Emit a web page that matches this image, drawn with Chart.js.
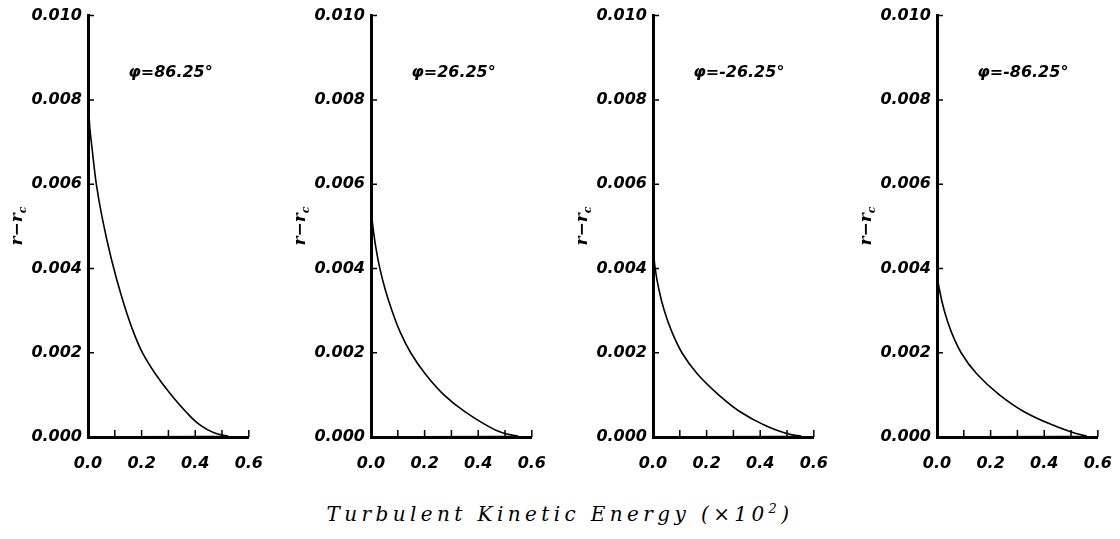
<!DOCTYPE html>
<html>
<head>
<meta charset="utf-8">
<script src="https://cdn.jsdelivr.net/npm/chart.js@4.4.1/dist/chart.umd.min.js"></script>
<style>
  body { margin: 0; background: #fff; }
  #wrap { position: relative; width: 1120px; height: 539px; overflow: hidden; }
  canvas { position: absolute; top: 0; }
  .ytitle {
    position: absolute; width: 60px; height: 20px; line-height: 20px; text-align: center;
    font: italic bold 17px "DejaVu Serif", serif; color: #000;
    transform: rotate(-90deg);
  }
  .ytitle sub { font-size: 11px; }
  #xtitle {
    position: absolute; left: 0; width: 1120px; top: 501px; text-align: center;
    font: italic 20px "DejaVu Serif", serif; letter-spacing: 4.4px; color: #000;
  }
  #xtitle sup { font-size: 13px; }
</style>
</head>
<body>
<div id="wrap">
  <canvas id="c0" width="280" height="480" style="left:0px"></canvas>
  <canvas id="c1" width="280" height="480" style="left:283px"></canvas>
  <canvas id="c2" width="280" height="480" style="left:565px"></canvas>
  <canvas id="c3" width="280" height="480" style="left:849px"></canvas>
  <div class="ytitle" style="left:-14px;top:216px">r−r<sub>c</sub></div>
  <div class="ytitle" style="left:269px;top:216px">r−r<sub>c</sub></div>
  <div class="ytitle" style="left:551px;top:216px">r−r<sub>c</sub></div>
  <div class="ytitle" style="left:835px;top:216px">r−r<sub>c</sub></div>
  <div id="xtitle">Turbulent Kinetic Energy (×10<sup>2</sup>)</div>
</div>
<script>
// angle of each station
const angles = ["φ=86.25°", "φ=26.25°", "φ=-26.25°", "φ=-86.25°"];

// turbulent kinetic energy (x100) and distance from wall r - rc
const tke1 = [0, 0.001, 0.003, 0.006, 0.016, 0.031, 0.053, 0.088, 0.127, 0.169, 0.203, 0.251, 0.310, 0.365, 0.415, 0.47, 0.505, 0.522, 0.45, 0];
const r1   = [0.0100, 0.0090, 0.0080, 0.0074, 0.0068, 0.0060, 0.0052, 0.0042, 0.0033, 0.0025, 0.0020, 0.0015, 0.0010, 0.0006, 0.0003, 0.0001, 0.00004, 0.00002, 0.00001, 0];

const tke2 = [0, 0, 0.002, 0.007, 0.018, 0.033, 0.053, 0.078, 0.108, 0.148, 0.202, 0.272, 0.35, 0.425, 0.49, 0.53, 0.548, 0.48, 0];
const r2   = [0.0100, 0.0060, 0.0053, 0.0050, 0.0045, 0.0040, 0.0035, 0.0030, 0.0025, 0.0020, 0.0015, 0.0010, 0.0006, 0.0003, 0.0001, 0.00004, 0.00002, 0.00001, 0];

const tke3 = [0, 0, 0.002, 0.008, 0.022, 0.042, 0.07, 0.108, 0.165, 0.245, 0.325, 0.41, 0.49, 0.53, 0.552, 0.48, 0];
const r3   = [0.0100, 0.0050, 0.0044, 0.0040, 0.0035, 0.0030, 0.0025, 0.0020, 0.0015, 0.0010, 0.0006, 0.0003, 0.0001, 0.00004, 0.00002, 0.00001, 0];

const tke4 = [0, 0, 0.002, 0.009, 0.027, 0.053, 0.09, 0.148, 0.233, 0.325, 0.425, 0.51, 0.545, 0.558, 0.49, 0];
const r4   = [0.0100, 0.0045, 0.0038, 0.0035, 0.0030, 0.0025, 0.0020, 0.0015, 0.0010, 0.0006, 0.0003, 0.0001, 0.00004, 0.00002, 0.00001, 0];

const xTicks = ["0.0", "0.2", "0.4", "0.6"];
const yTicks = ["0.000", "0.002", "0.004", "0.006", "0.008", "0.010"];

const series = [[tke1, r1], [tke2, r2], [tke3, r3], [tke4, r4]];
const tickFont = { family: "DejaVu Sans", size: 16, style: "italic", weight: "bold" };

// short tick marks pointing into the plot, plus the angle label
const insideTicks = {
  id: "insideTicks",
  afterDraw(chart) {
    const { ctx, scales: { x, y } } = chart;
    ctx.save();
    ctx.strokeStyle = "#000";
    ctx.lineWidth = 1.5;
    ctx.beginPath();
    x.ticks.forEach(t => {
      if (t.value <= 0) return;
      const px = x.getPixelForValue(t.value);
      ctx.moveTo(px, y.bottom);
      ctx.lineTo(px, y.bottom - 7);
    });
    y.ticks.forEach(t => {
      if (t.value <= 0) return;
      const py = y.getPixelForValue(t.value);
      ctx.moveTo(x.left, py);
      ctx.lineTo(x.left + 6, py);
    });
    ctx.stroke();
    ctx.fillStyle = "#000";
    ctx.font = "italic bold 16px 'DejaVu Sans'";
    ctx.textBaseline = "middle";
    ctx.fillText(chart.options.plugins.insideTicks.label, x.getPixelForValue(0.15), y.getPixelForValue(0.00865));
    ctx.restore();
  }
};

series.forEach(([tke, r], i) => {
  new Chart(document.getElementById("c" + i), {
    type: "line",
    data: {
      datasets: [{
        data: tke.map((v, k) => ({ x: v, y: r[k] })),
        borderColor: "#000",
        borderWidth: 1.6,
        pointRadius: 0,
        cubicInterpolationMode: "monotone",
        indexAxis: "y",
        fill: false
      }]
    },
    options: {
      responsive: false,
      animation: false,
      devicePixelRatio: 1,
      indexAxis: "y",
      layout: { padding: { top: 15, right: 12, left: 0, bottom: 0 } },
      plugins: {
        legend: { display: false },
        tooltip: { enabled: false },
        insideTicks: { label: angles[i] }
      },
      scales: {
        x: {
          type: "linear",
          min: 0,
          max: 0.6,
          afterFit: s => { s.height = 43; },
          grid: { display: true, drawOnChartArea: false, drawTicks: false },
          border: { display: true, color: "#000", width: 3 },
          ticks: {
            stepSize: 0.1,
            autoSkip: false,
            maxRotation: 0,
            padding: 17,
            color: "#000",
            font: tickFont,
            callback: v => {
              const k = Math.round(v * 10);
              return k % 2 === 0 ? xTicks[k / 2] : "";
            }
          }
        },
        y: {
          type: "linear",
          min: 0,
          max: 0.01,
          afterFit: s => { s.width = 88; },
          grid: { display: true, drawOnChartArea: false, drawTicks: false },
          border: { display: true, color: "#000", width: 3 },
          ticks: {
            stepSize: 0.002,
            padding: 6,
            color: "#000",
            font: tickFont,
            callback: v => yTicks[Math.round(v / 0.002)]
          }
        }
      }
    },
    plugins: [insideTicks]
  });
});
</script>
</body>
</html>
